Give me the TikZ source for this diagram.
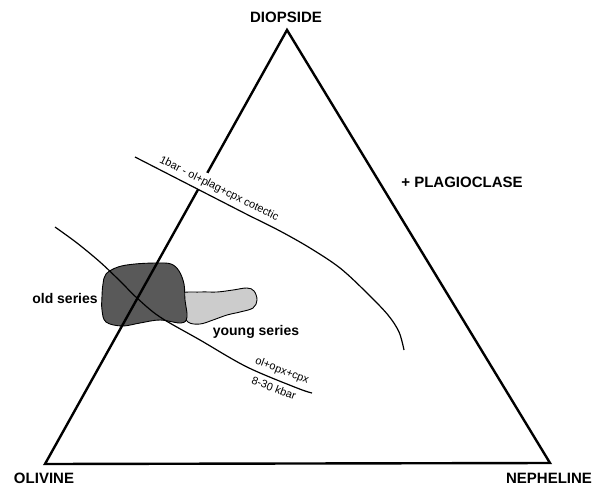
\documentclass[tikz,border=0pt]{standalone}
\usepackage{fontspec}
\setmainfont{Liberation Sans}
\begin{document}
\begin{tikzpicture}[x=1pt,y=-1pt,
  vertex/.style={font=\bfseries\fontsize{15}{15}\selectfont, inner sep=0pt},
  series/.style={font=\bfseries\fontsize{14}{14}\selectfont, inner sep=0pt},
  small/.style={font=\fontsize{11}{11}\selectfont, inner sep=0pt},
  side/.style={line width=2.4pt, line join=miter},
  curve/.style={line width=1.2pt},
  blob/.style={draw=black, line width=0.9pt}]
\useasboundingbox (0,0) rectangle (596,489);
\coordinate (D) at (287,30);
\coordinate (O) at (45,464);
\coordinate (N) at (550,463);
% young series field
\filldraw[blob, fill=black!20] plot[smooth cycle, tension=0.6] coordinates {
  (180,294) (200,292) (217,292) (233,290) (247,288) (254,291) (257,300) (253,308)
  (240,312) (227,315) (213,320) (200,324) (188,322) (182,310)};
% old series field
\filldraw[blob, fill=black!65] plot[smooth cycle, tension=0.6] coordinates {
  (106,274) (118,267) (135,264) (157,263) (171,264) (179,271) (184,284) (185,300)
  (187,317) (181,323) (160,320) (140,323) (122,326) (106,322) (102,310) (102,296) (103,284)};
% triangle
\draw[side] (D) -- (O) -- (N) -- cycle;
% cotectic label (breaks the triangle side)
\node[small, rotate=-26.5, fill=white, inner xsep=1pt, inner ysep=4pt] (cot) at (219,189) {1bar - ol+plag+cpx cotectic};
% cotectic
\draw[curve] (135,157) -- (250,216)
  plot[smooth, tension=0.55] coordinates {(250,216) (280,231) (310,248) (340,268) (367,293) (388,315) (399,332) (404,350)};
% high pressure curve
\draw[curve] plot[smooth, tension=0.55] coordinates {(55,227) (77,243) (100,262) (120,281) (137,298) (160,317) (200,340) (247,367) (297,388) (312,393)};
\node[small, rotate=-21] (hp1) at (282,371) {ol+opx+cpx};
\node[small, rotate=-21] (hp2) at (274,388) {8-30 kbar};
% labels
\node[vertex] (dio) at (286,17) {DIOPSIDE};
\node[vertex] (oli) at (44,478) {OLIVINE};
\node[vertex] (nep) at (549,478) {NEPHELINE};
\node[vertex] (pla) at (462,182) {+ PLAGIOCLASE};
\node[series] (old) at (65,298) {old series};
\node[series] (young) at (256,332) {young series};
\end{tikzpicture}
\end{document}
